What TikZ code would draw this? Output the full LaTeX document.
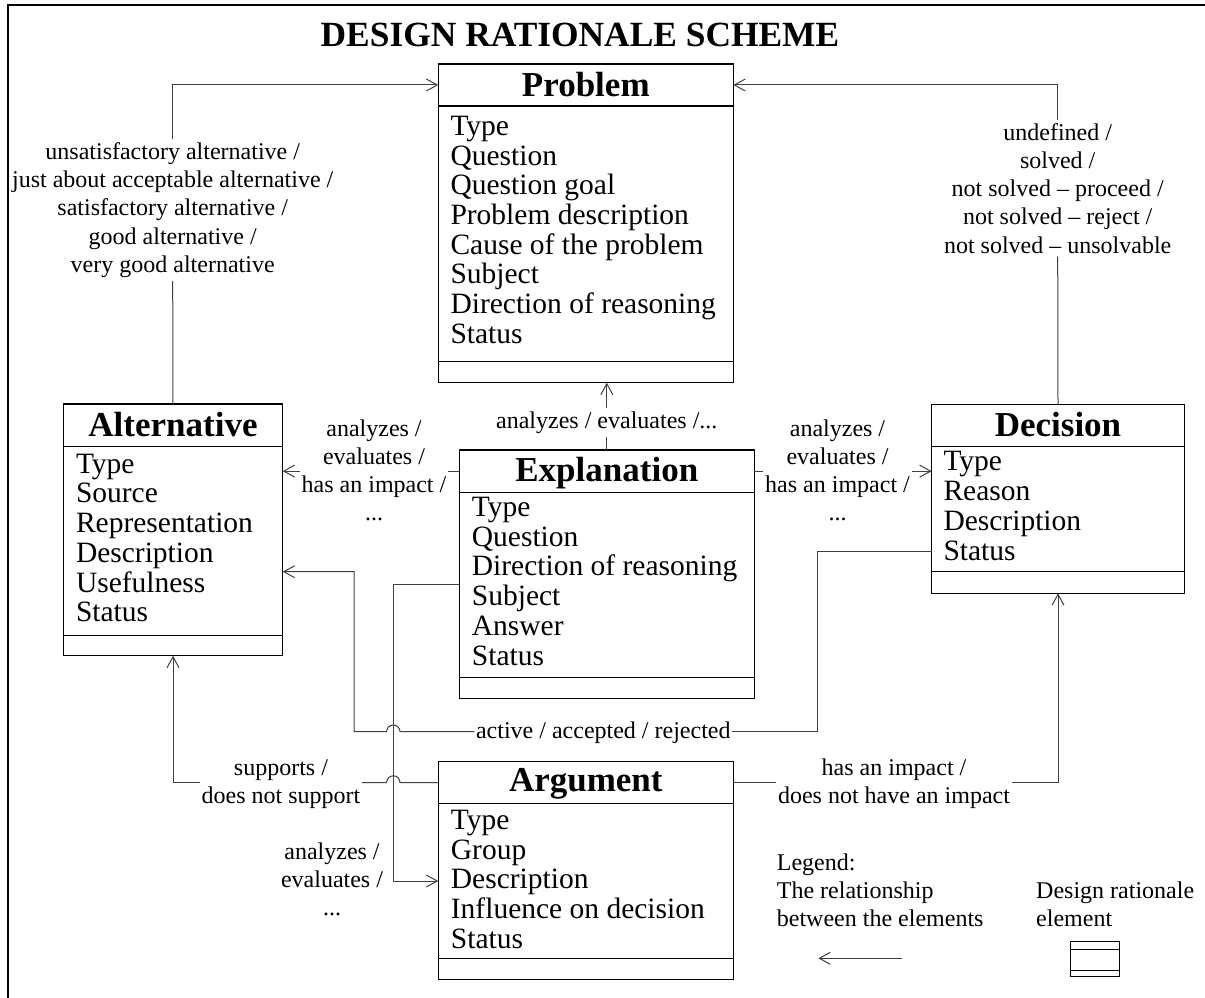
\documentclass[tikz,border=0pt]{standalone}
\usepackage{fontspec}
\setmainfont{Liberation Serif}
\usetikzlibrary{arrows.meta}
\begin{document}
\begin{tikzpicture}[x=1pt,y=-1pt,
  elem/.style={draw=black, line width=1.2pt, anchor=north west, inner sep=0pt, outer sep=0pt},
  elemfoot/.style={draw=black, line width=1.2pt, anchor=south west, inner sep=0pt, outer sep=0pt},
  elemtitle/.style={font=\fontsize{35}{40}\selectfont\bfseries, anchor=base, inner sep=0pt},
  elemattr/.style={font=\fontsize{29.5}{29.7}\selectfont, align=left, anchor=base west, inner sep=0pt},
  lbl/.style={font=\fontsize{24}{28.3}\selectfont, align=center, anchor=base, inner xsep=1.5pt, inner ysep=3pt},
  legtext/.style={font=\fontsize{24}{28.3}\selectfont, align=left, anchor=base west, inner sep=0pt},
  conn/.style={draw=black!75, line width=1pt},
  >={Straight Barb[length=11pt,width=12pt]}
]
\useasboundingbox (0,0) rectangle (1205,998);

% frame edges
\draw[line width=2pt] (8,998) -- (8,5) -- (1205,5);

% heading
\node[font=\fontsize{35.4}{40}\selectfont\bfseries, anchor=base, inner sep=0pt] (title) at (580,46.7) {DESIGN RATIONALE SCHEME};

% multi-line nodes are placed by the baseline of their last line

% ---- Problem
\node[elem, minimum width=295pt, minimum height=318.7pt] (prob) at (438.3,64) {};
\node[elem, minimum width=295pt, minimum height=42pt] (prob-h) at (prob.north west) {};
\node[elemfoot, minimum width=295pt, minimum height=21pt] (prob-f) at (prob.south west) {};
\node[elemtitle] (prob-t) at ([yshift=-32.5pt]prob.north) {Problem};
\node[elemattr] (prob-a) at ([xshift=12pt,yshift=-237.3pt]prob-h.south west)
  {Type\\Question\\Question goal\\Problem description\\Cause of the problem\\Subject\\Direction of reasoning\\Status};

% ---- Alternative
\node[elem, minimum width=219.4pt, minimum height=251.7pt] (alt) at (63.3,404) {};
\node[elem, minimum width=219.4pt, minimum height=42.7pt] (alt-h) at (alt.north west) {};
\node[elemfoot, minimum width=219.4pt, minimum height=20pt] (alt-f) at (alt.south west) {};
\node[elemtitle] (alt-t) at ([yshift=-32pt]alt.north) {Alternative};
\node[elemattr] (alt-a) at ([xshift=12.5pt,yshift=-175pt]alt-h.south west)
  {Type\\Source\\Representation\\Description\\Usefulness\\Status};

% ---- Explanation
\node[elem, minimum width=295pt, minimum height=248.3pt] (expl) at (459.3,450) {};
\node[elem, minimum width=295pt, minimum height=42.3pt] (expl-h) at (expl.north west) {};
\node[elemfoot, minimum width=295pt, minimum height=21pt] (expl-f) at (expl.south west) {};
\node[elemtitle] (expl-t) at ([yshift=-31.7pt]expl.north) {Explanation};
\node[elemattr] (expl-a) at ([xshift=12.4pt,yshift=-172.7pt]expl-h.south west)
  {Type\\Question\\Direction of reasoning\\Subject\\Answer\\Status};

% ---- Decision
\node[elem, minimum width=252.6pt, minimum height=189pt] (dec) at (931.7,404.3) {};
\node[elem, minimum width=252.6pt, minimum height=42.4pt] (dec-h) at (dec.north west) {};
\node[elemfoot, minimum width=252.6pt, minimum height=21.6pt] (dec-f) at (dec.south west) {};
\node[elemtitle] (dec-t) at ([yshift=-31.7pt]dec.north) {Decision};
\node[elemattr] (dec-a) at ([xshift=11.6pt,yshift=-113.3pt]dec-h.south west)
  {Type\\Reason\\Description\\Status};

% ---- Argument
\node[elem, minimum width=295pt, minimum height=217.6pt] (arg) at (438.3,761.7) {};
\node[elem, minimum width=295pt, minimum height=41.6pt] (arg-h) at (arg.north west) {};
\node[elemfoot, minimum width=295pt, minimum height=21pt] (arg-f) at (arg.south west) {};
\node[elemtitle] (arg-t) at ([yshift=-30pt]arg.north) {Argument};
\node[elemattr] (arg-a) at ([xshift=12.4pt,yshift=-145pt]arg-h.south west)
  {Type\\Group\\Description\\Influence on decision\\Status};

% ---- relationship labels
\node[lbl] (lblQ) at (172.7,272.5) {unsatisfactory alternative /\\just about acceptable alternative /\\satisfactory alternative /\\good alternative /\\very good alternative};
\node[lbl] (lblS) at (1057.7,253.2) {undefined /\\solved /\\not solved \textendash{} proceed /\\not solved \textendash{} reject /\\not solved \textendash{} unsolvable};
\node[lbl] (lblAE) at (374,520.9) {analyzes /\\evaluates /\\has an impact /\\...};
\node[lbl] (lblDE) at (837.5,520.9) {analyzes /\\evaluates /\\has an impact /\\...};
\node[lbl] (lblTop) at (606.8,428.3) {analyzes / evaluates /...};
\node[lbl] (lblAct) at (603.3,738.3) {active / accepted / rejected};
\node[lbl] (lblSup) at (281,803.6) {supports /\\does not support};
\node[lbl] (lblImp) at (894,803.6) {has an impact /\\does not have an impact};
\node[lbl] (lblArg) at (332,915.9) {analyzes /\\evaluates /\\...};

% ---- connectors
\draw[conn] (alt.north) -- (lblQ.south);
\draw[conn,->] (lblQ.north) |- (prob-h.west);

\draw[conn] (dec.north) -- (lblS.south);
\draw[conn,->] (lblS.north) |- (prob-h.east);

\draw[conn] (expl.north) -- (lblTop.south);
\draw[conn,->] (lblTop.north) -- (lblTop.north |- prob.south);

\draw[conn] (expl-h.west) -- (lblAE.east |- expl-h.west);
\draw[conn,->] (lblAE.west |- expl-h.west) -- (alt.east |- expl-h.west);

\draw[conn] (expl-h.east) -- (lblDE.west |- expl-h.east);
\draw[conn,->] (lblDE.east |- expl-h.east) -- (dec.west |- expl-h.east);

\draw[conn] (dec.west |- 0,551.7) -| (817,731.7) -- (lblAct.east |- 0,731.7);
\draw[conn,->] (lblAct.west |- 0,731.7) -- (400,731.7)
  arc[start angle=0, end angle=180, radius=6.7pt] -- (354,731.7) |- (alt.east |- 0,571.7);

\draw[conn,->] (expl.west |- 0,584.7) -| (393.3,881) -- (arg.west |- 0,881);

\draw[conn] (arg-h.west) -- (400,782.5)
  arc[start angle=0, end angle=180, radius=6.7pt] -- (lblSup.east |- arg-h.west);
\draw[conn,->] (lblSup.west |- arg-h.west) -| (alt.south);

\draw[conn] (arg-h.east) -- (lblImp.west |- arg-h.east);
\draw[conn,->] (lblImp.east |- arg-h.east) -| (dec.south);

% ---- legend
\node[legtext] (leg1) at (776.7,926.6) {Legend:\\The relationship\\between the elements};
\node[legtext] (leg2) at (1036,926.6) {Design rationale\\element};
\coordinate (legT) at (901.7,958.3);
\coordinate (legH) at (818.3,958.3);
\draw[conn,->] (legT) -- (legH);
\node[elem, line width=1pt, minimum width=49.3pt, minimum height=35.7pt] (legbox) at (1070,941) {};
\node[elem, line width=1pt, minimum width=49.3pt, minimum height=8.3pt] (legbox-h) at (legbox.north west) {};
\node[elemfoot, line width=1pt, minimum width=49.3pt, minimum height=6pt] (legbox-f) at (legbox.south west) {};

\end{tikzpicture}
\end{document}
